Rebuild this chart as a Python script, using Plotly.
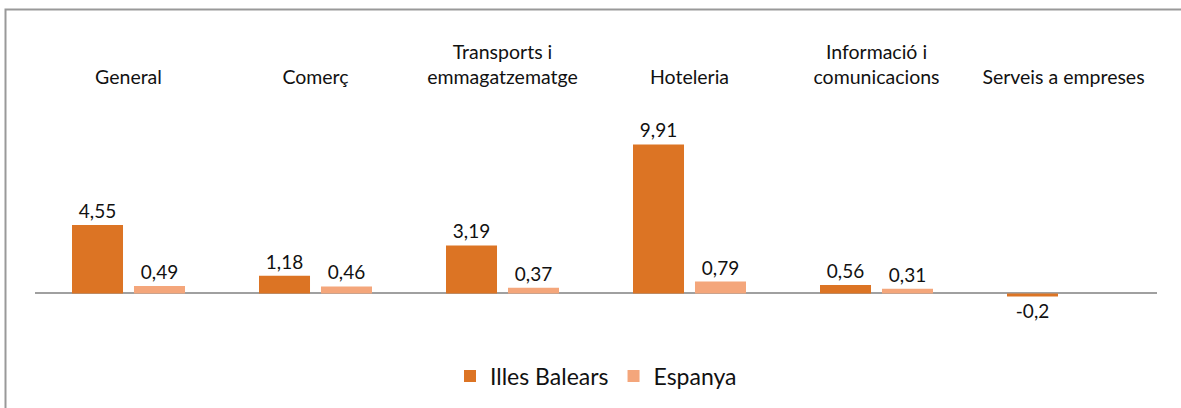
import plotly.graph_objects as go

categories = ["General", "Comerç", "Transports i<br>emmagatzematge", "Hoteleria",
              "Informació i<br>comunicacions", "Serveis a empreses"]
illes_balears = [4.55, 1.18, 3.19, 9.91, 0.56, -0.2]
espanya = [0.49, 0.46, 0.37, 0.79, 0.31, None]


def fmt(v):
    if v is None:
        return ""
    s = ("%.2f" % v).rstrip("0").rstrip(".")
    return s.replace(".", ",")


FONT = "Lato, 'Open Sans', sans-serif"
TXT = "#111111"

fig = go.Figure()
fig.add_trace(go.Bar(
    name="Illes Balears", x=categories, y=illes_balears,
    text=[fmt(v) for v in illes_balears], textposition="outside",
    textfont=dict(size=19, color=TXT, family=FONT),
    marker=dict(color="#DC7424", line=dict(width=0)),
    cliponaxis=False,
))
fig.add_trace(go.Bar(
    name="Espanya", x=categories, y=espanya,
    text=[fmt(v) for v in espanya], textposition="outside",
    textfont=dict(size=19, color=TXT, family=FONT),
    marker=dict(color="#F4A67B", line=dict(width=0)),
    cliponaxis=False,
))

W, H = 1181, 408
ml, mr, mt, mb = 35, 24, 95, 68
pw, ph = W - ml - mr, H - mt - mb

fig.update_layout(
    width=W, height=H,
    margin=dict(l=ml, r=mr, t=mt, b=mb, autoexpand=False),
    paper_bgcolor="white", plot_bgcolor="white",
    barmode="group", bargap=0.337, bargroupgap=0.177,
    separators=",.",
    font=dict(family=FONT, size=19, color=TXT),
    showlegend=True,
    legend=dict(orientation="h", x=0.5, xanchor="center", y=-(376 - (H - mb)) / ph,
                yanchor="middle",
                font=dict(size=23, family=FONT, color=TXT),
                traceorder="normal"),
    xaxis=dict(side="top", showline=False, showgrid=False, ticks="", automargin=False,
               ticklabelstandoff=6,
               tickfont=dict(size=19.5, family=FONT, color=TXT)),
    yaxis=dict(range=[-3.1, 13.2], visible=True, showticklabels=False, showgrid=False,
               showline=False, ticks="", zeroline=True, zerolinecolor="#A0A0A0",
               zerolinewidth=2, automargin=False),
    shapes=[dict(type="rect", xref="paper", yref="paper",
                 x0=(5.5 - ml) / pw, x1=1.2,
                 y0=-0.6, y1=1 + (mt - 9.5) / ph,
                 line=dict(color="#999999", width=2), layer="below")],
)

fig.write_html("out.html",
               config={"displayModeBar": False},
               post_script="document.body.style.margin='0';document.body.style.overflow='hidden';")
